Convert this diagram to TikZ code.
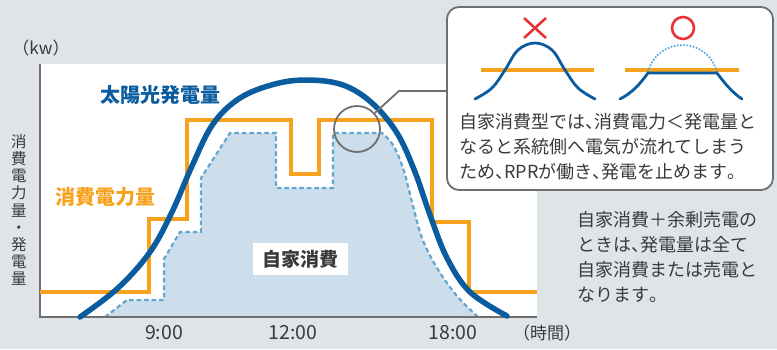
\documentclass[tikz,border=0pt]{standalone}
\usepackage{fontspec}
\setmainfont{Noto Sans CJK JP}
\newfontfamily\jp{Noto Sans CJK JP}
\newfontfamily\jph[RawFeature=+halt]{Noto Sans CJK JP}
\newcommand\jpc{{\jph 、}}
\newcommand\jpd{{\jph 。}}
\definecolor{bgc}{HTML}{DFE4E9}
\definecolor{orng}{HTML}{F7A21D}
\definecolor{sblue}{HTML}{0B5C9E}
\definecolor{lfill}{HTML}{CCDDEB}
\definecolor{dashc}{HTML}{63A7CF}
\definecolor{dotc}{HTML}{3FA3DA}
\definecolor{tgray}{HTML}{3A3A3A}
\definecolor{agray}{HTML}{6F6F6F}
\definecolor{xred}{HTML}{E63338}
\tikzset{
  txt/.style={inner sep=0pt, text=tgray, font=\jp\fontsize{18}{25}\selectfont},
  ticklbl/.style={inner sep=0pt, text=tgray, font=\jp\fontsize{19.5}{22}\selectfont},
  orangeline/.style={draw=orng, line width=4.3pt, line join=miter},
  solarline/.style={draw=sblue, line width=5.5pt, line cap=round},
  dashline/.style={draw=dashc, line width=2.2pt, dash pattern=on 4.5pt off 3pt},
  axisline/.style={draw=agray, line width=1.2pt},
  iconblue/.style={draw=sblue, line width=2.8pt, line cap=round},
  iconorng/.style={draw=orng, line width=3.6pt},
}
\begin{document}
\begin{tikzpicture}[x=1pt,y=-1pt]
\useasboundingbox (0,0) rectangle (777,349);
\fill[bgc] (0,0) rectangle (777,349);
% plot area
\fill[white] (40,64) rectangle (537,317);
% self consumption area
\fill[lfill] (105,317) -- (127,300) -- (164,300) -- (164,259) -- (180,232) -- (201,232) -- (201,178) -- (230,133) -- (276,133) -- (276,188) -- (333,188) -- (333,133) -- (382,133)
  -- plot[smooth, tension=0.6] coordinates {(382,133) (393,145) (403,168) (412,202) (422,238) (437,268) (457,296) (478,317)} -- cycle;
\draw[dashline] (105,317) -- (127,300) -- (164,300) -- (164,259) -- (180,232) -- (201,232) -- (201,178) -- (230,133) -- (276,133) -- (276,188) -- (333,188) -- (333,133) -- (382,133)
  -- plot[smooth, tension=0.6] coordinates {(382,133) (393,145) (403,168) (412,202) (422,238) (437,268) (457,296) (478,317)};
% axes
\draw[axisline] (40,64) -- (40,317) -- (537,317);
% consumption
\draw[orangeline] (40,292) -- (149,292) -- (149,219) -- (187,219) -- (187,120) -- (291,120) -- (291,174) -- (319,174) -- (319,120) -- (432,120) -- (432,222) -- (469,222) -- (469,292) -- (537,292);
% solar generation
\draw[solarline] plot[smooth, tension=0.6] coordinates {(80,317) (118,288) (150,252) (172,212) (192,166) (213,124) (240,98) (275,84) (308,80) (343,85) (372,103) (397,133) (415,172) (430,215) (447,258) (470,292) (507,316)};
% labels in plot
\node[fill=white, minimum width=95pt, minimum height=32pt, inner sep=0pt, text=tgray, font=\jp\fontsize{19}{22}\selectfont\bfseries] (selfuse) at (300.5,259) {自家消費};
\node[inner sep=0pt, text=sblue, font=\jp\fontsize{20}{24}\selectfont\bfseries] (solarlbl) at (160,95) {太陽光発電量};
\node[inner sep=0pt, text=orng, font=\jp\fontsize{20}{24}\selectfont\bfseries] (conslbl) at (105,197) {消費電力量};
% axis labels
\node[inner sep=0pt, text=tgray, font=\jp\fontsize{17}{20}\selectfont] (unitlbl) at (41,48) {（kw）};
\node[inner sep=0pt, text=tgray, align=center, font=\jp\fontsize{15.5}{17.1}\selectfont] (ylbl) at (19,210) {消\\費\\電\\力\\量\\・\\発\\電\\量};
\node[ticklbl] (t9) at (164,333) {9:00};
\node[ticklbl] (t12) at (293,333) {12:00};
\node[ticklbl] (t18) at (453,333) {18:00};
\node[inner sep=0pt, text=tgray, font=\jp\fontsize{17}{20}\selectfont] (tlbl) at (547,333) {（時間）};
% callout
\node[draw=agray, line width=1.8pt, fill=white, rounded corners=12pt, minimum width=326pt, minimum height=183pt, inner sep=0pt] (callout) at (610,98.5) {};
\node[draw=agray, line width=1.8pt, circle, minimum size=46pt, inner sep=0pt] (zoomcirc) at (357,129) {};
\coordinate (ptrrow) at (0,91);
\draw[agray, line width=1.8pt] (zoomcirc.42) -- (399,91) -- (callout.west |- ptrrow);
% icons
\draw[xred, line width=2.6pt] (524,18) -- (546,38) (546,18) -- (524,38);
\draw[xred, line width=2.6pt] (683,28) circle (11pt);
\draw[iconorng] (481,70) -- (594,70);
\draw[iconblue] plot[smooth, tension=0.6] coordinates {(475,99) (492,88) (505,70) (518,50) (535,43) (552,50) (565,70) (578,88) (595,99)};
\draw[iconorng] (625,70) -- (739,70);
\draw[dotc, line width=1.6pt, dash pattern=on 1.6pt off 1.6pt] (648,72) .. controls (658,36) and (707,36) .. (717,72);
\draw[iconblue] (620,99) .. controls (632,93) and (640,84) .. (648,73) -- (717,73) .. controls (725,84) and (733,93) .. (742,99);
% callout text
\node[txt, anchor=west] (c1) at (459,122) {自家消費型では\jpc 消費電力＜発電量と};
\node[txt, anchor=west] (c2) at (459,147) {なると系統側へ電気が流れてしまう};
\node[txt, anchor=west] (c3) at (459,172) {ため\jpc RPRが働き\jpc 発電を止めます\jpd};
% right text
\node[txt, anchor=west] (r1) at (577,220) {自家消費＋余剰売電の};
\node[txt, anchor=west] (r2) at (577,245) {ときは\jpc 発電量は全て};
\node[txt, anchor=west] (r3) at (577,270) {自家消費または売電と};
\node[txt, anchor=west] (r4) at (577,295) {なります\jpd};
\end{tikzpicture}
\end{document}
